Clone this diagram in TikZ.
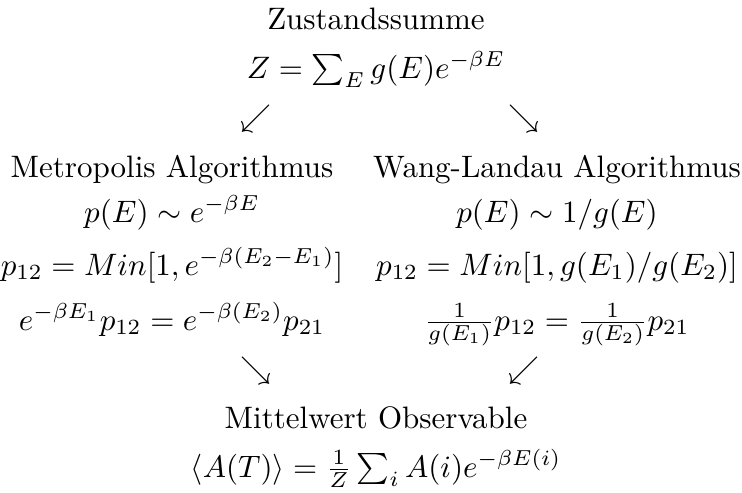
\documentclass[tikz,border=0pt]{standalone}
\begin{document}
\begin{tikzpicture}[x=0.3226pt,y=-0.3226pt,
  lbl/.style={inner sep=0pt, outer sep=0pt, anchor=base},
  arr/.style={inner sep=0pt, outer sep=0pt, anchor=center}]
\useasboundingbox (0,0) rectangle (742,493);
% top
\node[lbl] (zs) at (376,29) {Zustandssumme};
\node[lbl] (zf) at (376,78) {$Z=\sum_E g(E)e^{-\beta E}$};
\node[arr] (a1) at (256,118.5) {$\swarrow$};
\node[arr] (a2) at (524,118.5) {$\searrow$};
% left column
\node[lbl] (m0) at (172,177) {Metropolis Algorithmus};
\node[lbl] (m1) at (172,222) {$p(E)\sim e^{-\beta E}$};
\node[lbl] (m2) at (172,275) {$p_{12}=Min[1,e^{-\beta(E_2-E_1)}]$};
\node[lbl] (m3) at (172,330) {$e^{-\beta E_1}p_{12}=e^{-\beta(E_2)}p_{21}$};
% right column
\node[lbl] (w0) at (557,177) {Wang-Landau Algorithmus};
\node[lbl] (w1) at (557,222) {$p(E)\sim 1/g(E)$};
\node[lbl] (w2) at (557,275) {$p_{12}=Min[1,g(E_1)/g(E_2)]$};
\node[lbl] (w3) at (557,330) {$\frac{1}{g(E_1)}p_{12}=\frac{1}{g(E_2)}p_{21}$};
% bottom
\node[arr] (a3) at (256,371) {$\searrow$};
\node[arr] (a4) at (524,371) {$\swarrow$};
\node[lbl] (mw) at (376,428) {Mittelwert Observable};
\node[lbl] (mf) at (376,477) {$\langle A(T)\rangle=\frac{1}{Z}\sum_i A(i)e^{-\beta E(i)}$};
\end{tikzpicture}
\end{document}
